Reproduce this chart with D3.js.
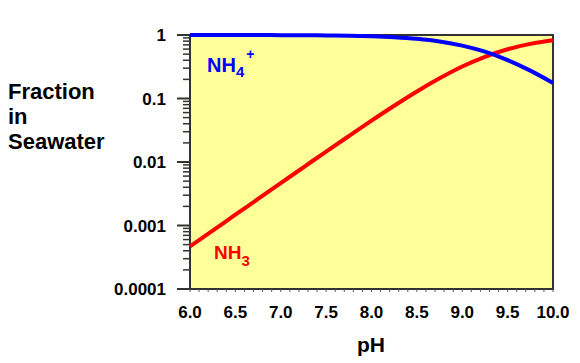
<!DOCTYPE html>
<html>
<head>
<meta charset="utf-8">
<script src="https://cdn.jsdelivr.net/npm/d3@7"></script>
<style>
  body { margin: 0; background: #fff; }
  svg { display: block; font-family: "Liberation Sans", Arial, sans-serif; font-weight: bold; }
</style>
</head>
<body>
<div id="chart"></div>
<script>
// pH values
const phValues = [6.0, 6.25, 6.5, 6.75, 7.0, 7.25, 7.5, 7.75, 8.0, 8.25, 8.5, 8.75, 9.0, 9.25, 9.5, 9.75, 10.0];
// fraction of NH3
const nh3 = [0.00047, 0.00083, 0.00148, 0.00262, 0.00466, 0.00825, 0.0146, 0.0256, 0.0447, 0.0768, 0.129, 0.208, 0.319, 0.454, 0.597, 0.725, 0.824];
// fraction of NH4+
const nh4 = [0.9995, 0.9992, 0.9985, 0.9974, 0.9953, 0.9917, 0.9854, 0.9744, 0.9553, 0.9232, 0.871, 0.792, 0.681, 0.546, 0.403, 0.275, 0.176];
const xTicks = [6.0, 6.5, 7.0, 7.5, 8.0, 8.5, 9.0, 9.5, 10.0];
const yTicks = [1, 0.1, 0.01, 0.001, 0.0001];
const yTickLabels = ["1", "0.1", "0.01", "0.001", "0.0001"];

const W = 580, H = 363;
const plotL = 190, plotR = 553, plotT = 35, plotB = 289;

const svg = d3.select("#chart").append("svg")
    .attr("width", W)
    .attr("height", H);

const x = d3.scaleLinear().domain([6, 10]).range([plotL, plotR]);
const y = d3.scaleLog().domain([0.0001, 1]).range([plotB, plotT]);

// plot background
svg.append("rect")
    .attr("x", plotL).attr("y", plotT)
    .attr("width", plotR - plotL).attr("height", plotB - plotT)
    .attr("fill", "#ffff99")
    .attr("stroke", "#333")
    .attr("stroke-width", 2);

// y axis: major ticks and minor ticks outside the left edge
const yAxis = svg.append("g").attr("transform", `translate(${plotL},0)`);
const minorY = [];
for (let e = -4; e < 0; e++) {
    for (let k = 2; k <= 9; k++) minorY.push(k * Math.pow(10, e));
}
yAxis.selectAll(".minor")
    .data(minorY)
    .enter().append("line")
    .attr("x1", -7).attr("x2", 0)
    .attr("y1", d => y(d)).attr("y2", d => y(d))
    .attr("stroke", "#333").attr("stroke-width", 1.5);
yAxis.selectAll(".major")
    .data(yTicks)
    .enter().append("line")
    .attr("x1", -13).attr("x2", 0)
    .attr("y1", d => y(d)).attr("y2", d => y(d))
    .attr("stroke", "#333").attr("stroke-width", 2);
yAxis.selectAll("text")
    .data(yTicks)
    .enter().append("text")
    .attr("x", -24)
    .attr("y", d => y(d))
    .attr("dy", "0.36em")
    .attr("text-anchor", "end")
    .attr("font-size", 17)
    .attr("fill", "#000")
    .text((d, i) => yTickLabels[i]);

// x axis: small ticks below the bottom edge
const xAxis = svg.append("g").attr("transform", `translate(0,${plotB})`);
xAxis.selectAll(".minor")
    .data(d3.range(60, 101).map(v => v / 10))
    .enter().append("line")
    .attr("x1", d => x(d)).attr("x2", d => x(d))
    .attr("y1", 0).attr("y2", 3)
    .attr("stroke", "#555").attr("stroke-width", 1);
xAxis.selectAll("text")
    .data(xTicks)
    .enter().append("text")
    .attr("x", d => x(d))
    .attr("y", 29)
    .attr("text-anchor", "middle")
    .attr("font-size", 17)
    .attr("fill", "#000")
    .text(d => d.toFixed(1));

// curves
const line = (vals) => d3.line()
    .x((d, i) => x(phValues[i]))
    .y(d => y(d))
    .curve(d3.curveMonotoneX)(vals);

svg.append("path")
    .attr("d", line(nh3))
    .attr("fill", "none")
    .attr("stroke", "#ff0000")
    .attr("stroke-width", 4);

svg.append("path")
    .attr("d", line(nh4))
    .attr("fill", "none")
    .attr("stroke", "#0000ff")
    .attr("stroke-width", 4);

// series labels
const lab4 = svg.append("text")
    .attr("x", 207).attr("y", 72)
    .attr("font-size", 20)
    .attr("fill", "#0000ff");
lab4.append("tspan").text("NH");
lab4.append("tspan").attr("font-size", 15).attr("dy", 5).text("4");
lab4.append("tspan").attr("font-size", 14).attr("dy", -18).attr("dx", 2).text("+");

const lab3 = svg.append("text")
    .attr("x", 214).attr("y", 259)
    .attr("font-size", 19)
    .attr("fill", "#ff0000");
lab3.append("tspan").text("NH");
lab3.append("tspan").attr("font-size", 15).attr("dy", 7).text("3");

// axis titles
svg.append("text")
    .attr("x", 371).attr("y", 352)
    .attr("text-anchor", "middle")
    .attr("font-size", 21)
    .text("pH");

const yTitle = svg.append("text")
    .attr("x", 8)
    .attr("font-size", 22);
["Fraction", "in", "Seawater"].forEach((t, i) => {
    yTitle.append("tspan").attr("x", 8).attr("y", 99 + i * 25).text(t);
});
</script>
</body>
</html>
